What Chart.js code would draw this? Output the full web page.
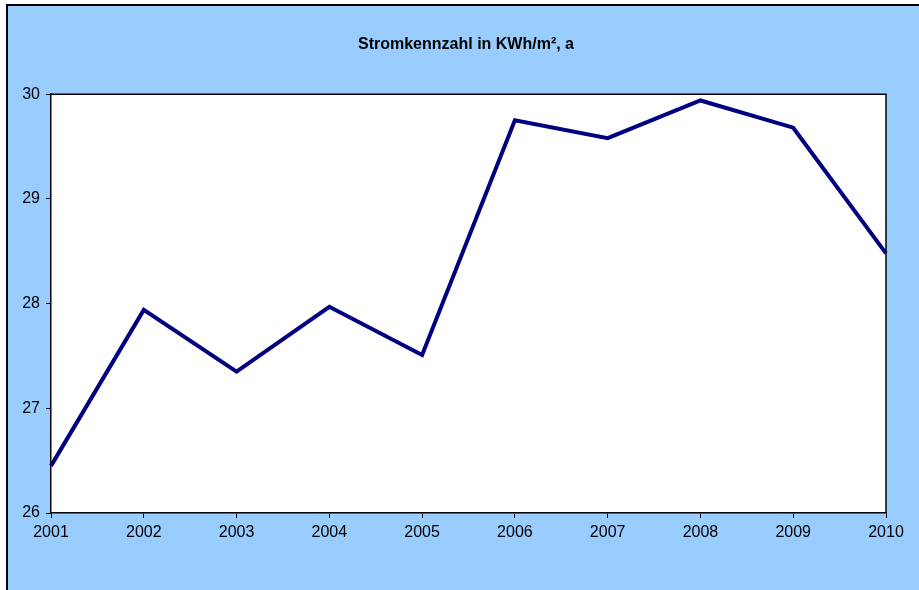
<!DOCTYPE html>
<html>
<head>
<meta charset="utf-8">
<script src="https://cdn.jsdelivr.net/npm/chart.js@4/dist/chart.umd.min.js"></script>
<style>
  html, body { margin: 0; padding: 0; background: #ffffff; overflow: hidden; }
  #wrap { position: relative; width: 919px; height: 590px; overflow: hidden; }
</style>
</head>
<body>
<div id="wrap"><canvas id="stromCanvas" width="932" height="590"></canvas></div>
<script>
////////////data////////////
var years = ['2001', '2002', '2003', '2004', '2005', '2006', '2007', '2008', '2009', '2010'];
var stromValues = [26.45, 27.94, 27.35, 27.97, 27.51, 29.75, 29.58, 29.94, 29.68, 28.48];
var yTicks = [26, 27, 28, 29, 30];
var chartTitle = 'Stromkennzahl in KWh/m², a';

////////////background + frame////////////
var framePlugin = {
	id: 'frame',
	beforeDraw: function(chart) {
		var ctx = chart.ctx, a = chart.chartArea;
		ctx.save();
		ctx.fillStyle = '#ffffff';
		ctx.fillRect(0, 0, chart.width, chart.height);
		//blue outer box with black edge (runs off right and bottom)
		ctx.fillStyle = '#99ccff';
		ctx.fillRect(6, 4, chart.width, chart.height);
		ctx.strokeStyle = '#000000';
		ctx.lineWidth = 2;
		ctx.beginPath();
		ctx.moveTo(7, chart.height + 5);
		ctx.lineTo(7, 5);
		ctx.lineTo(chart.width + 5, 5);
		ctx.stroke();
		//white plot area
		ctx.fillStyle = '#ffffff';
		ctx.fillRect(a.left, a.top, a.right - a.left, a.bottom - a.top);
		ctx.restore();
	},
	afterDatasetsDraw: function(chart) {
		var ctx = chart.ctx, a = chart.chartArea;
		ctx.save();
		ctx.strokeStyle = '#000000';
		ctx.lineWidth = 1.5;
		ctx.beginPath();
		ctx.moveTo(a.left, a.top);
		ctx.lineTo(a.right, a.top);
		ctx.lineTo(a.right, a.bottom);
		ctx.stroke();
		ctx.restore();
	}
};

var fontFamily = 'Liberation Sans, Arial, sans-serif';

////////////create chart////////////
var myChart = new Chart(document.getElementById('stromCanvas'), {
	type: 'line',
	data: {
		labels: years,
		datasets: [{
			label: chartTitle,
			data: stromValues,
			borderColor: '#000080',
			borderWidth: 4,
			pointRadius: 0,
			tension: 0,
			fill: false
		}]
	},
	options: {
		responsive: false,
		animation: false,
		layout: { padding: 0 },
		plugins: {
			legend: { display: false },
			tooltip: { enabled: false },
			title: {
				display: true,
				text: chartTitle,
				color: '#000000',
				font: { family: fontFamily, size: 16, weight: 'bold' },
				padding: { top: 35, bottom: 40 }
			}
		},
		scales: {
			x: {
				offset: false,
				grid: { drawOnChartArea: false, color: '#000000', tickLength: 5 },
				border: { color: '#000000', width: 1.5 },
				ticks: {
					color: '#000000',
					maxRotation: 0,
					padding: 5,
					font: { family: fontFamily, size: 16 }
				},
				afterFit: function(scale) { scale.height = 77; }
			},
			y: {
				min: 26,
				max: 30,
				afterBuildTicks: function(scale) {
					scale.ticks = yTicks.map(function(v) { return { value: v }; });
				},
				grid: { drawOnChartArea: false, color: '#000000', tickLength: 5 },
				border: { color: '#000000', width: 1.5 },
				ticks: {
					color: '#000000',
					padding: 6,
					font: { family: fontFamily, size: 16 }
				},
				afterFit: function(scale) { scale.width = 51; }
			},
			//empty right strip so the plot ends at the right place
			yRight: {
				position: 'right',
				min: 26,
				max: 30,
				grid: { display: false },
				border: { display: false },
				ticks: { display: false },
				afterFit: function(scale) { scale.width = 46; }
			}
		}
	},
	plugins: [framePlugin]
}); //end new Chart
</script>
</body>
</html>
